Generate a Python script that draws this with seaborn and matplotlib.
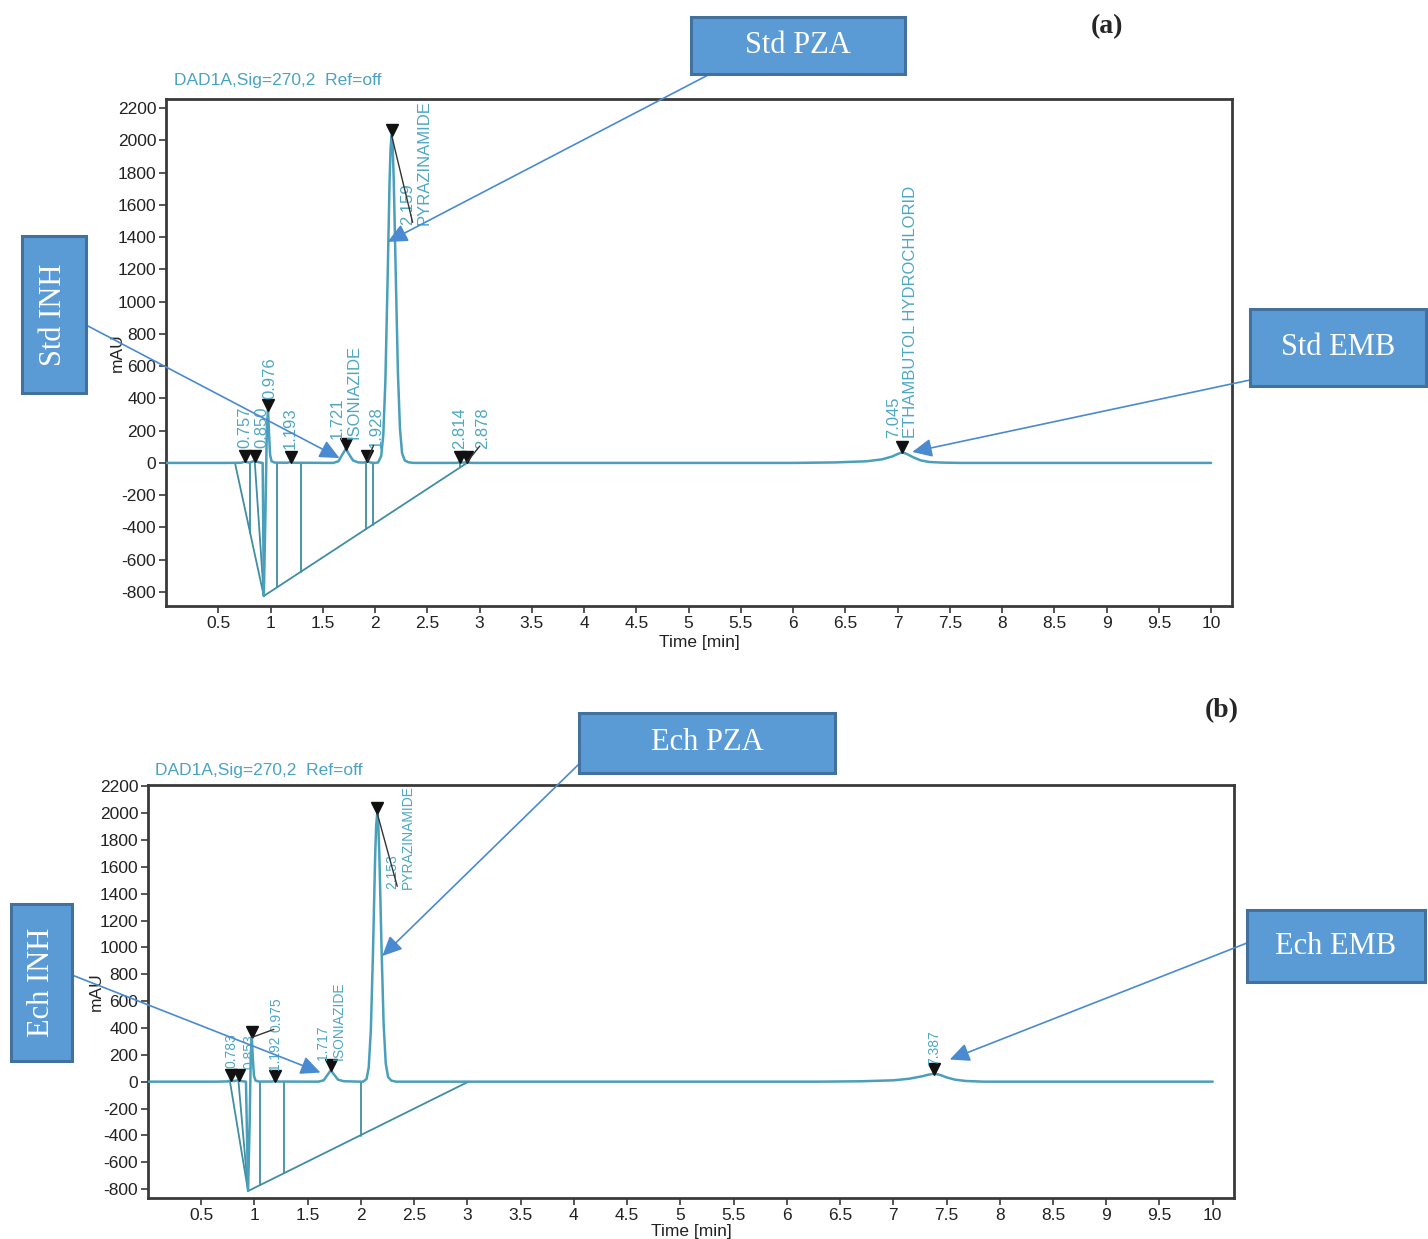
import numpy as np
import matplotlib
matplotlib.use("Agg")
import matplotlib.pyplot as plt
import seaborn as sns
from matplotlib.patches import Rectangle

sns.set_theme(style="ticks")
plt.rcParams["font.family"] = ["Liberation Sans", "DejaVu Sans"]

# ---- chromatogram (a): standard mixture ----
time_a = [0.00, 0.60, 0.72, 0.745, 0.757, 0.77, 0.80, 0.835, 0.85, 0.865, 0.90, 0.925,
          0.936, 0.952, 0.965, 0.976, 0.986, 0.996, 1.010, 1.040, 1.160, 1.193, 1.225,
          1.600, 1.650, 1.690, 1.721, 1.750, 1.790, 1.840, 1.895, 1.928, 1.960, 2.000,
          2.030, 2.059, 2.079, 2.099, 2.119, 2.139, 2.149, 2.159, 2.169, 2.179, 2.199,
          2.219, 2.239, 2.259, 2.285, 2.320, 2.370, 2.780, 2.814, 2.845, 2.878, 2.920,
          6.000, 6.400, 6.700, 6.850, 6.950, 7.000, 7.045, 7.090, 7.150, 7.220, 7.300,
          7.420, 7.600, 10.00]
signal_a = [0, 0, 1, 6, 9, 5, 2, 10, 14, 8, 2, 0,
            -825, -300, 220, 330, 180, 50, 10, 2, 1, 6, 1,
            0, 10, 55, 88, 55, 15, 3, 2, 10, 2, 0,
            3, 43, 172, 505, 1095, 1740, 1953, 2030, 1960, 1760, 1150,
            560, 210, 60, 15, 4, 0, 0, 5, 2, 5, 0,
            0, 3, 10, 22, 40, 55, 66, 55, 35, 16, 6,
            2, 0, 0]

peak_rt_a = [0.757, 0.850, 0.976, 1.193, 1.721, 1.928, 2.159, 2.814, 2.878, 7.045]
peak_h_a = [9, 14, 330, 6, 88, 10, 2030, 5, 5, 66]
peak_lab_a = ["0.757", "0.850", "0.976", "1.193", "1.721\nISONIAZIDE", "1.928",
              "2.159\nPYRAZINAMIDE", "2.814", "2.878", "7.045\nETHAMBUTOL HYDROCHLORID"]

# integration baseline segments (a)
base_x_a = [[0.66, 0.936], [0.85, 0.936], [0.936, 2.88], [0.80, 0.80], [1.06, 1.06],
            [1.29, 1.29], [1.91, 1.91], [1.98, 1.98], [2.814, 2.814]]
base_y_a = [[0, -825], [0, -825], [-825, 0], [0, -435], [0, -772],
            [0, -675], [0, -412], [0, -382], [0, -28]]

# ---- chromatogram (b): sample ----
time_b = [0.00, 0.65, 0.75, 0.772, 0.783, 0.80, 0.83, 0.853, 0.87, 0.92, 0.940, 0.955,
          0.965, 0.975, 0.985, 0.995, 1.010, 1.040, 1.160, 1.192, 1.225, 1.600, 1.650,
          1.690, 1.717, 1.745, 1.785, 1.840, 2.000, 2.020, 2.053, 2.073, 2.093, 2.113,
          2.133, 2.143, 2.153, 2.163, 2.173, 2.193, 2.213, 2.233, 2.255, 2.285, 2.330,
          6.300, 6.700, 7.000, 7.150, 7.270, 7.330, 7.387, 7.440, 7.500, 7.580, 7.680,
          7.850, 10.00]
signal_b = [0, 0, 2, 8, 10, 4, 8, 13, 5, 0, -815, -300,
            200, 330, 170, 45, 8, 1, 1, 5, 1, 0, 10,
            55, 85, 55, 15, 3, 0, 0, 20, 106, 383, 960,
            1665, 1910, 2000, 1915, 1690, 1010, 430, 135, 35, 8, 0,
            0, 3, 10, 22, 40, 52, 60, 50, 32, 15, 5,
            0, 0]

peak_rt_b = [0.783, 0.853, 0.975, 1.192, 1.717, 2.153, 7.387]
peak_h_b = [10, 13, 330, 5, 85, 2000, 60]
peak_lab_b = ["0.783", "0.853", "0.975", "1.192", "1.717\nISONIAZIDE",
              "2.153\nPYRAZINAMIDE", "7.387"]

base_x_b = [[0.77, 0.94], [0.85, 0.94], [0.94, 3.01], [1.05, 1.05], [1.28, 1.28], [2.00, 2.00]]
base_y_b = [[0, -815], [0, -815], [-815, 0], [0, -772], [0, -680], [0, -404]]

x_ticks = np.arange(0.5, 10.01, 0.5)
y_ticks = np.arange(-800, 2201, 200)

TRACE = "#4a9fbb"
BASE = "#3f8ea3"
LABEL = "#4fa7c2"
SPINE = "#3a3a3a"
BOX_FACE = "#5B9BD5"
BOX_EDGE = "#41719C"
ARROW = "#4a8ad0"

W, H = 1428, 1239
fig = plt.figure(figsize=(W / 100, H / 100), dpi=100)

ax_a = fig.add_axes([166 / W, 1 - 606 / H, (1232 - 166) / W, (606 - 99) / H])
ax_b = fig.add_axes([148 / W, 1 - 1198 / H, (1234 - 148) / W, (1198 - 785) / H])


def draw_panel(ax, t, s, bx, by, rts, hs, labs, dxs, dys, leaders, ylim, lab_fs, title_x, title_dy,
               xlab_y, ylab_x):
    for xs, ys in zip(bx, by):
        ax.plot(xs, ys, color=BASE, lw=1.3, zorder=2)
    sns.lineplot(x=t, y=s, ax=ax, color=TRACE, lw=1.8, estimator=None, sort=False, zorder=3)
    ax.plot(rts, hs, ls="none", marker="v", ms=8, color="#111111", zorder=4,
            transform=ax.transData + matplotlib.transforms.ScaledTranslation(0, 5 / 100, fig.dpi_scale_trans))
    for rt, h, lab, dx, dy, ld in zip(rts, hs, labs, dxs, dys, leaders):
        ax.annotate(lab, xy=(rt, h), xytext=(dx, dy), textcoords="offset pixels",
                    rotation=90, ha="center", va="bottom", multialignment="left",
                    fontsize=lab_fs, color=LABEL, linespacing=1.15, zorder=5)
        if ld:
            ax.annotate("", xy=(rt, h), xytext=(dx - 3, dy + 3), textcoords="offset pixels",
                        arrowprops=dict(arrowstyle="-", color="#333333", lw=1.0,
                                        shrinkA=0, shrinkB=0), zorder=5)
    ax.set_xlim(0, 10.2)
    ax.set_ylim(*ylim)
    ax.set_xticks(x_ticks)
    ax.set_xticklabels([f"{v:g}" for v in x_ticks])
    ax.set_yticks(y_ticks)
    ax.set_yticklabels([f"{v:d}" for v in y_ticks])
    ax.tick_params(direction="out", length=5, width=1.2, color=SPINE, labelsize=12.5,
                   labelcolor="#222222", pad=2)
    for sp in ax.spines.values():
        sp.set_visible(True)
        sp.set_color(SPINE)
        sp.set_linewidth(2)
    ax.set_xlabel("Time [min]", fontsize=12.5, color="#222222")
    ax.set_ylabel("mAU", fontsize=12.5, color="#222222")
    ax.xaxis.set_label_coords(0.5, xlab_y)
    ax.yaxis.set_label_coords(ylab_x, 0.5)
    ax.text(title_x, 1 + title_dy, "DAD1A,Sig=270,2  Ref=off", transform=ax.transAxes,
            ha="left", va="center", fontsize=12.5, color="#4aa3c3")


draw_panel(ax_a, time_a, signal_a, base_x_a, base_y_a, peak_rt_a, peak_h_a, peak_lab_a,
           [0, 7, 2, 0, 0, 9, 24, 0, 16, 0],
           [13, 13, 11, 13, 10, 13, -90, 13, 13, 14],
           [False, False, False, False, False, True, True, False, True, False],
           (-887, 2256), 12, 0.0075, 18 / 507, -0.057, -0.039)

draw_panel(ax_b, time_b, signal_b, base_x_b, base_y_b, peak_rt_b, peak_h_b, peak_lab_b,
           [0, 11, 25, 0, 0, 23, 0],
           [12, 11, 5, 11, 10, -76, 9],
           [False, False, True, False, False, True, False],
           (-867, 2211), 10, 0.0064, 15 / 413, -0.062, -0.041)


def label_box(x0, y0, x1, y1, text, vertical=False):
    rect = Rectangle((x0 / W, 1 - y1 / H), (x1 - x0) / W, (y1 - y0) / H,
                     transform=fig.transFigure, facecolor=BOX_FACE, edgecolor=BOX_EDGE, lw=2.2)
    fig.add_artist(rect)
    fig.text((x0 + x1) / 2 / W, 1 - (y0 + y1) / 2 / H, text, ha="center", va="center",
             rotation=90 if vertical else 0, color="white", fontsize=22,
             family="Liberation Serif")


def pointer(ax, tail_px, tip):
    ax.annotate("", xy=tip, xycoords="data", xytext=(tail_px[0], H - tail_px[1]),
                textcoords="figure pixels",
                arrowprops=dict(arrowstyle="-|>,head_length=0.6,head_width=0.28",
                                mutation_scale=20, color=ARROW, lw=1.2,
                                shrinkA=0, shrinkB=0), zorder=6)


label_box(691, 17, 905, 74, "Std PZA")
label_box(22, 236, 86, 393, "Std INH", vertical=True)
label_box(1250, 309, 1426, 386, "Std EMB")
label_box(579, 713, 835, 773, "Ech PZA")
label_box(11, 904, 72, 1061, "Ech INH", vertical=True)
label_box(1247, 910, 1425, 982, "Ech EMB")

pointer(ax_a, (710, 74), (2.12, 1370))
pointer(ax_a, (86, 325), (1.66, 30))
pointer(ax_a, (1250, 380), (7.14, 68))
pointer(ax_b, (578, 765), (2.20, 936))
pointer(ax_b, (72, 975), (1.62, 68))
pointer(ax_b, (1247, 943), (7.53, 165))

fig.text(1107 / W, 1 - 27 / H, "(a)", ha="center", va="center", fontsize=20,
         fontweight="bold", family="Liberation Serif")
fig.text(1222 / W, 1 - 711 / H, "(b)", ha="center", va="center", fontsize=20,
         fontweight="bold", family="Liberation Serif")

fig.savefig("out.png", dpi=100)
